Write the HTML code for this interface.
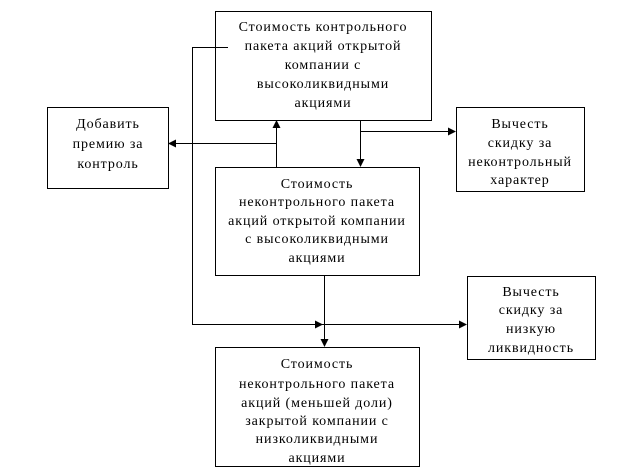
<!DOCTYPE html>
<html><head><meta charset="utf-8"><style>
html,body{margin:0;padding:0;background:#fff;}
svg{display:block;}
text{font-family:"Liberation Serif",serif;font-size:14px;fill:#000;text-anchor:middle;letter-spacing:0.9px;}
</style></head><body>
<svg width="624" height="471" viewBox="0 0 624 471" xmlns="http://www.w3.org/2000/svg">
<defs>
<marker id="a" markerWidth="8" markerHeight="8" refX="7" refY="4" orient="auto" markerUnits="userSpaceOnUse">
<path d="M0,0 L8,4 L0,8 z" fill="#000"/></marker>
</defs>
<g fill="#fff" stroke="#000" stroke-width="1">
<rect x="215.5" y="11.5" width="216" height="109"/>
<rect x="47.5" y="107.5" width="121" height="81"/>
<rect x="456.5" y="107.5" width="128" height="84"/>
<rect x="215.5" y="167.5" width="204" height="108"/>
<rect x="467.5" y="276.5" width="128" height="83"/>
<rect x="215.5" y="347.5" width="204" height="119"/>
</g>
<g stroke="#000" stroke-width="1" fill="none">
<polyline points="228,47.5 192.5,47.5 192.5,324.5 322,324.5" marker-end="url(#a)"/>
<line x1="322" y1="324.5" x2="466" y2="324.5" marker-end="url(#a)"/>
<line x1="324.5" y1="276" x2="324.5" y2="346" marker-end="url(#a)"/>
<line x1="276.5" y1="167" x2="276.5" y2="121" marker-end="url(#a)"/>
<line x1="276.5" y1="143.5" x2="169" y2="143.5" marker-end="url(#a)"/>
<line x1="360.5" y1="121" x2="360.5" y2="166" marker-end="url(#a)"/>
<line x1="360.5" y1="131.5" x2="455" y2="131.5" marker-end="url(#a)"/>
</g>
<text x="323" y="31">Стоимость контрольного</text>
<text x="323" y="50">пакета акций открытой</text>
<text x="323" y="69">компании с</text>
<text x="323" y="88">высоколиквидными</text>
<text x="323" y="107">акциями</text>

<text x="108" y="128">Добавить</text>
<text x="108" y="148">премию за</text>
<text x="108" y="168">контроль</text>

<text x="520" y="128">Вычесть</text>
<text x="520" y="147">скидку за</text>
<text x="520" y="166">неконтрольный</text>
<text x="520" y="184">характер</text>

<text x="317" y="188">Стоимость</text>
<text x="317" y="206">неконтрольного пакета</text>
<text x="317" y="225">акций открытой компании</text>
<text x="317" y="243">с высоколиквидными</text>
<text x="317" y="262">акциями</text>

<text x="531" y="296">Вычесть</text>
<text x="531" y="314">скидку за</text>
<text x="531" y="333">низкую</text>
<text x="531" y="352">ликвидность</text>

<text x="317" y="368">Стоимость</text>
<text x="317" y="388">неконтрольного пакета</text>
<text x="317" y="407">акций (меньшей доли)</text>
<text x="317" y="425">закрытой компании с</text>
<text x="317" y="443">низколиквидными</text>
<text x="317" y="462">акциями</text>
</svg>
</body></html>
